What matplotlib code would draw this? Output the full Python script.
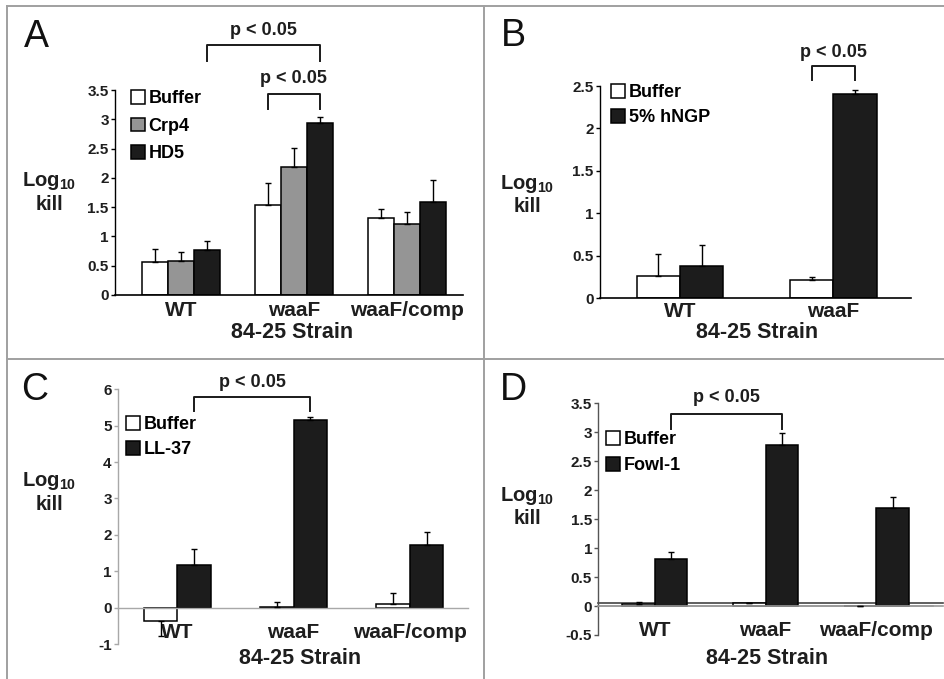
import matplotlib.pyplot as plt
from matplotlib.lines import Line2D
import numpy as np

plt.rcParams['font.family'] = ['Liberation Sans', 'DejaVu Sans']
plt.rcParams['mathtext.fontset'] = 'custom'
plt.rcParams['mathtext.rm'] = 'Liberation Sans:bold'
plt.rcParams['mathtext.bf'] = 'Liberation Sans:bold'

W, H = 945, 679

strains3 = ['WT', 'waaF', 'waaF/comp']
strains2 = ['WT', 'waaF']

# A: Buffer / Crp4 / HD5
a_buffer = [0.56, 1.53, 1.31]
a_buffer_err = [0.22, 0.38, 0.16]
a_crp4 = [0.58, 2.18, 1.22]
a_crp4_err = [0.15, 0.33, 0.20]
a_hd5 = [0.77, 2.94, 1.58]
a_hd5_err = [0.15, 0.10, 0.38]

# B: Buffer / 5% hNGP
b_buffer = [0.26, 0.21]
b_buffer_err = [0.26, 0.04]
b_hngp = [0.38, 2.40]
b_hngp_err = [0.25, 0.05]

# C: Buffer / LL-37
c_buffer = [-0.37, 0.03, 0.09]
c_buffer_err = [0.42, 0.12, 0.30]
c_ll37 = [1.17, 5.16, 1.73]
c_ll37_err = [0.43, 0.09, 0.34]

# D: Buffer / Fowl-1
d_buffer = [0.03, 0.05, 0.0]
d_buffer_err = [0.04, 0.01, 0.0]
d_fowl = [0.81, 2.78, 1.70]
d_fowl_err = [0.13, 0.21, 0.18]

WHITE = 'white'
GREY = '#959595'
BLACK = '#1c1c1c'
TXT = '#1e1e1e'


def box(l, r, t, b):
    return [l / W, 1 - b / H, (r - l) / W, (b - t) / H]


def fx(px):
    return px / W


def fy(py):
    return 1 - py / H


def bars(ax, series, errs, colors, names, width):
    n = len(series[0])
    k = len(series)
    handles = []
    for i in range(k):
        x = np.arange(n) + (i - (k - 1) / 2) * width
        v = np.array(series[i])
        e = np.array(errs[i])
        h = ax.bar(x, v, width, color=colors[i], edgecolor='black', linewidth=1.1,
                   label=names[i], zorder=2)
        handles.append(h)
        lo = np.where(v < 0, e, 0)
        hi = np.where(v >= 0, e, 0)
        ax.errorbar(x, v, yerr=[lo, hi], fmt='none', ecolor='black', elinewidth=1.0,
                    capsize=2.5, capthick=1.0, zorder=3)
    return handles


def style(ax, cats, pad, spine_color='black'):
    for s in ['top', 'right']:
        ax.spines[s].set_visible(False)
    ax.spines['left'].set_color(spine_color)
    ax.spines['bottom'].set_color(spine_color)
    ax.spines['left'].set_linewidth(1.0)
    ax.spines['bottom'].set_linewidth(1.2)
    ax.set_xticks(range(len(cats)), cats, fontweight='bold', fontsize=15, color=TXT)
    ax.tick_params(axis='y', direction='out', length=3, width=1, pad=1.5,
                   colors=spine_color, labelcolor=TXT)
    for lab in ax.get_yticklabels():
        lab.set_fontweight('bold')
        lab.set_fontsize(11)
    ax.tick_params(axis='x', length=0, pad=pad)


def fmt(v):
    return ('%g' % v)


def bracket(ax, x1, x2, yb, yt, ytext):
    ax.plot([x1, x1, x2, x2], [yb, yt, yt, yb], color='#1a1a1a', lw=1.4,
            clip_on=False, zorder=4)
    ax.text((x1 + x2) / 2, ytext, 'p < 0.05', ha='center', va='center',
            fontsize=13, fontweight='bold', color=TXT, clip_on=False)


def leg(ax, handles, names, px, py, spacing):
    ax.legend(handles, names, loc='upper left', bbox_to_anchor=(fx(px), fy(py)),
              bbox_transform=fig.transFigure, frameon=False, borderpad=0,
              handlelength=0.8, handleheight=0.8, handletextpad=0.2,
              labelspacing=spacing, borderaxespad=0,
              prop={'weight': 'bold', 'size': 13})


def ylab(cx, cy):
    fig.text(fx(cx), fy(cy), r'Log$_{\mathrm{10}}$', ha='center', va='center',
             fontsize=14.5, fontweight='bold', color=TXT)
    fig.text(fx(cx), fy(cy + 23), 'kill', ha='center', va='center',
             fontsize=14.5, fontweight='bold', color=TXT)


fig = plt.figure(figsize=(9.45, 6.79), dpi=100)

# panel frame lines
gc = '#a0a0a0'
fig.add_artist(Line2D([fx(7), 1], [fy(6), fy(6)], color=gc, lw=1.4))
fig.add_artist(Line2D([fx(7), fx(7)], [fy(6), 0], color=gc, lw=1.4))
fig.add_artist(Line2D([fx(483.5), fx(483.5)], [fy(6), 0], color=gc, lw=1.4))
fig.add_artist(Line2D([fx(7), 1], [fy(358.5), fy(358.5)], color=gc, lw=1.4))

# ---- A
ax = fig.add_axes(box(115, 463, 90, 295))
hA = bars(ax, [a_buffer, a_crp4, a_hd5], [a_buffer_err, a_crp4_err, a_hd5_err],
          [WHITE, GREY, BLACK], ['Buffer', 'Crp4', 'HD5'], 0.23)
ax.set_xlim(-0.585, 2.5)
ax.set_ylim(0, 3.5)
yt = np.arange(0, 3.51, 0.5)
ax.set_yticks(yt, [fmt(v) for v in yt])
style(ax, strains3, 4.5)
bracket(ax, 0.23, 1.23, 4.0, 4.27, 4.52)
bracket(ax, 0.77, 1.23, 3.18, 3.43, 3.69)
leg(ax, hA, ['Buffer', 'Crp4', 'HD5'], 130.5, 90, 0.58)

# ---- B
ax = fig.add_axes(box(600, 910.7, 86, 298.3))
hB = bars(ax, [b_buffer, b_hngp], [b_buffer_err, b_hngp_err],
          [WHITE, BLACK], ['Buffer', '5% hNGP'], 0.283)
ax.set_xlim(-0.522, 1.505)
ax.set_ylim(0, 2.5)
yt = np.arange(0, 2.51, 0.5)
ax.set_yticks(yt, [fmt(v) for v in yt])
style(ax, strains2, 2.5)
bracket(ax, 1 - 0.1415, 1 + 0.1415, 2.57, 2.74, 2.90)
leg(ax, hB, ['Buffer', '5% hNGP'], 611, 84, 0.45)

# ---- C
ax = fig.add_axes(box(118, 468, 389.3, 644))
hC = bars(ax, [c_buffer, c_ll37], [c_buffer_err, c_ll37_err],
          [WHITE, BLACK], ['Buffer', 'LL-37'], 0.288)
ax.set_xlim(-0.51, 2.5)
ax.set_ylim(-1, 6)
ax.set_yticks(range(-1, 7), [str(v) for v in range(-1, 7)])
ax.spines['bottom'].set_position(('data', 0))
style(ax, strains3, 11, '#a8a8a8')
ax.spines['bottom'].set_linewidth(1.0)
bracket(ax, 0.144, 1.144, 5.41, 5.78, 6.2)
leg(ax, hC, ['Buffer', 'LL-37'], 126, 416, 0.45)

# ---- D
ax = fig.add_axes(box(598.3, 933, 403.3, 635))
hD = bars(ax, [d_buffer, d_fowl], [d_buffer_err, d_fowl_err],
          [WHITE, BLACK], ['Buffer', 'Fowl-1'], 0.294)
ax.set_xlim(-0.51, 2.51)
ax.set_ylim(-0.5, 3.5)
yt = np.arange(-0.5, 3.51, 0.5)
ax.set_yticks(yt, [fmt(v) for v in yt])
ax.spines['bottom'].set_position(('data', 0))
style(ax, strains3, 10.5, '#555555')
ax.spines['bottom'].set_color('#9a9a9a')
ax.axhline(0, xmin=0, xmax=1.03, color='#9a9a9a', lw=1.2, clip_on=False, zorder=1)
ax.axhline(0.055, xmin=0, xmax=1.03, color='#444444', lw=1.2, clip_on=False, zorder=1)
bracket(ax, 0.147, 1.147, 3.06, 3.32, 3.6)
leg(ax, hD, ['Buffer', 'Fowl-1'], 606, 431, 0.5)

# axis titles
ylab(49, 181)
ylab(527, 184)
ylab(49, 481)
ylab(527, 496)
for cx, cy in [(292.5, 333), (757, 333), (300, 658.3), (767, 658.3)]:
    fig.text(fx(cx), fy(cy), '84-25 Strain', ha='center', va='center',
             fontsize=15.5, fontweight='bold', color=TXT)

# panel letters
for s, cx, cy in [('A', 36, 37), ('B', 513, 36), ('C', 35, 390), ('D', 513, 390)]:
    fig.text(fx(cx), fy(cy), s, ha='center', va='center', fontsize=27, color='#111111')

fig.savefig('out.png', dpi=100)
